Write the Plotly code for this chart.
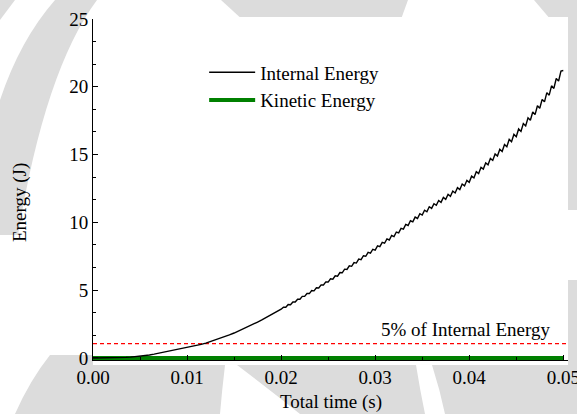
import base64
import numpy as np
import plotly.graph_objects as go

# ---------------- data ----------------
# early part, sampled every 0.0005 s (0 .. 0.02 s)
time_early = np.round(np.linspace(0.0, 0.02, 41), 5)
internal_early = [0.00, 0.00, 0.00, 0.01, 0.01, 0.02, 0.03, 0.04, 0.06, 0.09,
                  0.12, 0.17, 0.22, 0.28, 0.35, 0.41, 0.47, 0.53, 0.60, 0.67,
                  0.74, 0.82, 0.90, 1.00, 1.10, 1.21, 1.32, 1.44, 1.56, 1.70,
                  1.84, 1.99, 2.15, 2.31, 2.48, 2.65, 2.82, 3.01, 3.20, 3.40,
                  3.60]
# later part, sampled every 0.00025 s (0.02025 .. 0.05 s), oscillating
time_late = np.round(np.linspace(0.02025, 0.05, 120), 5)
internal_late = [3.75, 3.74, 3.94, 3.93, 4.13, 4.13, 4.33, 4.33,
                 4.54, 4.54, 4.75, 4.75, 4.97, 4.95, 5.18, 5.16,
                 5.39, 5.38, 5.61, 5.60, 5.84, 5.81, 6.06, 6.03,
                 6.30, 6.28, 6.55, 6.53, 6.80, 6.76, 7.04, 7.00,
                 7.29, 7.25, 7.54, 7.50, 7.79, 7.73, 8.02, 7.96,
                 8.27, 8.21, 8.52, 8.46, 8.78, 8.70, 9.03, 8.95,
                 9.29, 9.23, 9.56, 9.50, 9.85, 9.77, 10.12, 10.04,
                 10.39, 10.29, 10.64, 10.54, 10.90, 10.78, 11.15, 11.03,
                 11.38, 11.26, 11.61, 11.48, 11.84, 11.70, 12.07, 11.92,
                 12.31, 12.17, 12.56, 12.42, 12.83, 12.69, 13.10, 12.96,
                 13.41, 13.28, 13.74, 13.60, 14.06, 13.93, 14.39, 14.25,
                 14.72, 14.57, 15.05, 14.89, 15.40, 15.23, 15.75, 15.58,
                 16.12, 15.95, 16.49, 16.32, 16.89, 16.71, 17.29, 17.11,
                 17.71, 17.53, 18.14, 17.95, 18.60, 18.42, 19.07, 18.89,
                 19.57, 19.38, 20.07, 19.88, 20.61, 20.42, 21.16, 21.20]

time_internal = list(time_early) + list(time_late)
internal_energy = internal_early + internal_late

time_kinetic = [0.0, 0.01, 0.02, 0.03, 0.04, 0.05]
kinetic_energy = [0.0, 0.0, 0.0, 0.0, 0.0, 0.0]

threshold_time = [0.0, 0.0505]
threshold_value = [1.06, 1.06]   # 5% of final internal energy

x_ticks = [0.0, 0.01, 0.02, 0.03, 0.04, 0.05]
y_ticks = [0, 5, 10, 15, 20, 25]

# ---------------- background (watermark) ----------------
W, H = 577, 414
L, R, T, B = 93, 9, 19, 54
pw, ph = W - L - R, H - T - B
g = "#dcdcdc"
svg = f"""<svg xmlns='http://www.w3.org/2000/svg' width='{W}' height='{H}' viewBox='0 0 {W} {H}'>
<rect width='{W}' height='{H}' fill='white'/>
<path d='M55 0 L97 0 Q45 70 18 235 L0 235 L0 100 Q20 40 55 0 Z' fill='{g}'/>
<path d='M0 0 L15 0 L0 20 Z' fill='{g}'/>
<path d='M221 0 L408 0 L400 22 L245 22 Z' fill='{g}'/>
<path d='M534 0 L577 0 L577 210 L568 210 L568 40 Z' fill='{g}'/>
<path d='M568 280 L577 280 L577 414 L445 414 Q440 390 432 365 L568 365 Z' fill='{g}'/>
<path d='M237 365 L416 365 Q420 390 425 414 L300 414 Q270 390 237 365 Z' fill='{g}'/>
<path d='M15 414 Q30 380 50 355 L93 355 L93 365 L225 365 Q222 390 220 414 Z' fill='{g}'/>
<rect x='93' y='17' width='475' height='348' fill='white'/>
</svg>"""
svg_uri = "data:image/svg+xml;base64," + base64.b64encode(svg.encode()).decode()

FONT = "Liberation Serif"

fig = go.Figure()
fig.add_trace(go.Scatter(x=threshold_time, y=threshold_value, mode="lines",
                         line=dict(color="#ff0000", width=1.2, dash="4px,3px"),
                         showlegend=False, hoverinfo="skip"))
fig.add_trace(go.Scatter(x=time_kinetic, y=kinetic_energy, mode="lines",
                         name="Kinetic Energy",
                         line=dict(color="#008000", width=4)))
fig.add_trace(go.Scatter(x=time_internal, y=internal_energy, mode="lines",
                         name="Internal Energy",
                         line=dict(color="black", width=1.4)))

fig.update_layout(
    width=W, height=H,
    margin=dict(l=L, r=R, t=T, b=B, pad=0, autoexpand=False),
    paper_bgcolor="white",
    plot_bgcolor="rgba(0,0,0,0)",
    font=dict(family=FONT, size=19, color="black"),
    legend=dict(x=0.234, y=0.899, xanchor="left", yanchor="top",
                bgcolor="rgba(0,0,0,0)", traceorder="reversed",
                font=dict(family=FONT, size=19), itemwidth=46,
                tracegroupgap=0),
    images=[dict(source=svg_uri, xref="paper", yref="paper",
                 x=-L / pw, y=1 + T / ph, sizex=W / pw, sizey=H / ph,
                 xanchor="left", yanchor="top", sizing="stretch",
                 layer="below")],
    annotations=[
        dict(text="5% of Internal Energy", x=0.785, y=0.088, xref="paper",
             yref="paper", showarrow=False, xanchor="center", yanchor="middle",
             font=dict(family=FONT, size=19)),
        dict(text="Total time (s)", x=0.5, y=-(402 - (T + ph)) / ph,
             xref="paper", yref="paper", showarrow=False,
             xanchor="center", yanchor="middle",
             font=dict(family=FONT, size=19)),
        dict(text="Energy (J)", x=-(L - 20) / pw, y=(T + ph - 203) / ph,
             xref="paper", yref="paper", showarrow=False, textangle=-90,
             xanchor="center", yanchor="middle",
             font=dict(family=FONT, size=19)),
    ],
)
fig.update_xaxes(range=[0, 0.0505], tickvals=x_ticks, tickformat=".2f",
                 ticks="inside", ticklen=5, tickwidth=1, tickcolor="black",
                 ticklabeloverflow="allow", automargin=False,
                 minor=dict(dtick=0.005, tick0=0, ticks="inside", ticklen=3,
                            tickcolor="black"),
                 showline=True, linecolor="black", linewidth=1,
                 showgrid=False, zeroline=False,
                 tickfont=dict(family=FONT, size=19))
fig.update_yaxes(range=[-0.15, 25], tickvals=y_ticks,
                 ticks="inside", ticklen=5, tickwidth=1, tickcolor="black",
                 ticklabeloverflow="allow", automargin=False,
                 minor=dict(dtick=5 / 3, tick0=0, ticks="inside", ticklen=3,
                            tickcolor="black"),
                 showline=True, linecolor="black", linewidth=1,
                 showgrid=False, zeroline=False,
                 tickfont=dict(family=FONT, size=19))

fig.write_html("out.html", config={"displayModeBar": False},
               post_script="document.body.style.margin='0px';"
                           "document.body.style.overflow='hidden';")
